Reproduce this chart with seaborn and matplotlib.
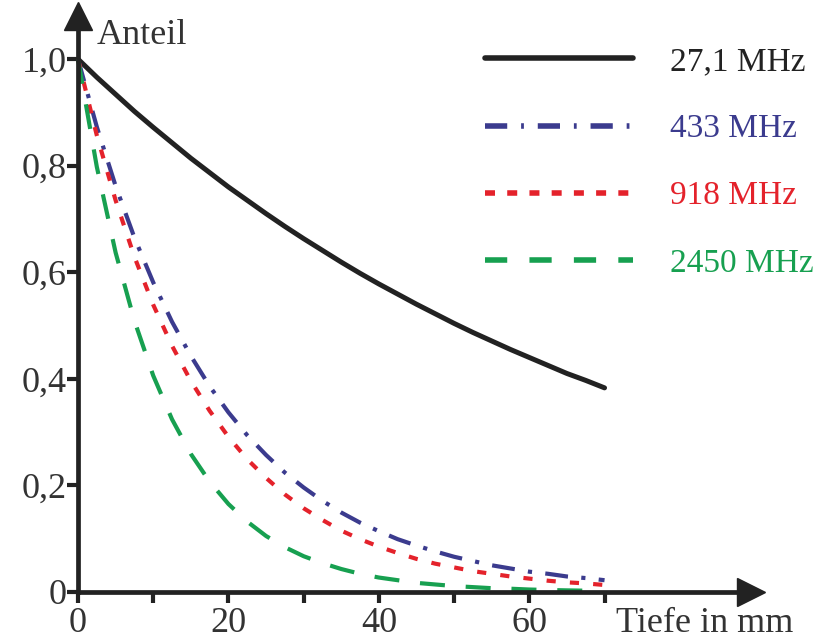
import matplotlib
matplotlib.use("Agg")
import matplotlib.pyplot as plt
from matplotlib.lines import Line2D
import seaborn as sns

# depth in mm
depth = [0, 2.5, 5, 7.5, 10, 12.5, 15, 17.5, 20, 22.5, 25, 27.5, 30, 32.5, 35,
         37.5, 40, 42.5, 45, 47.5, 50, 52.5, 55, 57.5, 60, 62.5, 65, 67.5, 70]

# share of power remaining
f27 = [1.000, 0.966, 0.934, 0.902, 0.872, 0.843, 0.814, 0.787, 0.760, 0.735,
       0.710, 0.686, 0.663, 0.641, 0.619, 0.598, 0.578, 0.559, 0.540, 0.522,
       0.504, 0.487, 0.471, 0.455, 0.440, 0.425, 0.410, 0.397, 0.383]
f433 = [1.000, 0.873, 0.762, 0.665, 0.581, 0.507, 0.443, 0.386, 0.337, 0.294,
        0.257, 0.224, 0.196, 0.171, 0.149, 0.130, 0.114, 0.099, 0.087, 0.076,
        0.066, 0.058, 0.050, 0.044, 0.038, 0.034, 0.029, 0.026, 0.022]
f918 = [1.000, 0.857, 0.735, 0.629, 0.539, 0.462, 0.396, 0.340, 0.291, 0.249,
        0.214, 0.183, 0.157, 0.135, 0.115, 0.099, 0.085, 0.073, 0.062, 0.053,
        0.046, 0.039, 0.034, 0.029, 0.025, 0.021, 0.018, 0.016, 0.013]
f2450 = [1.000, 0.798, 0.637, 0.509, 0.406, 0.324, 0.259, 0.207, 0.165, 0.132,
         0.105, 0.084, 0.067, 0.054, 0.043, 0.034, 0.027, 0.022, 0.017, 0.014,
         0.011, 0.009, 0.007, 0.006, 0.0045, 0.0036, 0.0029, 0.0023]

labels = ["27,1 MHz", "433 MHz", "918 MHz", "2450 MHz"]
colors = ["#222222", "#3b3b8e", "#e4222b", "#17a050"]

xticks = [0, 10, 20, 30, 40, 50, 60, 70]
xticklabels = ["0", "", "20", "", "40", "", "60", ""]
yticks = [0, 0.2, 0.4, 0.6, 0.8, 1.0]
yticklabels = ["0", "0,2", "0,4", "0,6", "0,8", "1,0"]

sns.set_style("white")
plt.rcParams["font.family"] = ["Liberation Serif", "DejaVu Serif"]

fig = plt.figure(figsize=(8.21, 6.42), dpi=100)
ax = fig.add_axes([0.095, 0.078, 0.820, 0.888])

styles = ["-", (0, (5.5, 3.2, 1, 3.2)), (0, (2.2, 3.4)), (0, (6, 5))]
widths = [3.6, 3, 3, 3]
series = [f27, f433, f918, f2450]
for ys, c, ls, lw in zip(series, colors, styles, widths):
    sns.lineplot(x=depth[:len(ys)], y=ys, ax=ax, color=c, linestyle=ls,
                 linewidth=lw, clip_on=False, zorder=3)

ax.set_xlim(0, 89.5)
ax.set_ylim(0, 1.07)
for s in ["top", "right"]:
    ax.spines[s].set_visible(False)
for s in ["left", "bottom"]:
    ax.spines[s].set_linewidth(3.4)
    ax.spines[s].set_color("#222222")
    ax.spines[s].set_zorder(4)

ax.plot(1, 0, ">", color="#222222", markersize=20, transform=ax.transAxes, clip_on=False)
ax.plot(0, 1.01, "^", color="#222222", markersize=20, transform=ax.transAxes, clip_on=False)

ax.set_xticks(xticks)
ax.set_xticklabels(xticklabels)
ax.set_yticks(yticks)
ax.set_yticklabels(yticklabels)
ax.tick_params(bottom=True, left=True, direction="out", length=8, width=3,
               color="#222222", labelsize=26, labelcolor="#333333", pad=0)
ax.tick_params(axis="x", pad=3)

ax.text(2.5, 1.045, "Anteil", fontsize=26, color="#333333", ha="left", va="center")
ax.text(71.5, -0.06, "Tiefe in mm", fontsize=26, color="#333333", ha="left", va="center",
        clip_on=False)

leg_styles = ["-", (0, (4, 2.5, 0.5, 2.5)), (0, (1.8, 2.2)), (0, (4, 4))]
handles = [Line2D([], [], color=c, linestyle=ls, linewidth=4)
           for c, ls in zip(colors, leg_styles)]
leg = ax.legend(handles, labels, loc="upper left", bbox_to_anchor=(0.585, 0.98),
                frameon=False, fontsize=24, handlelength=4.45, handletextpad=1.1,
                labelspacing=1.1, borderaxespad=0)
for t, c in zip(leg.get_texts(), colors):
    t.set_color(c)

fig.savefig("out.png", dpi=100)
